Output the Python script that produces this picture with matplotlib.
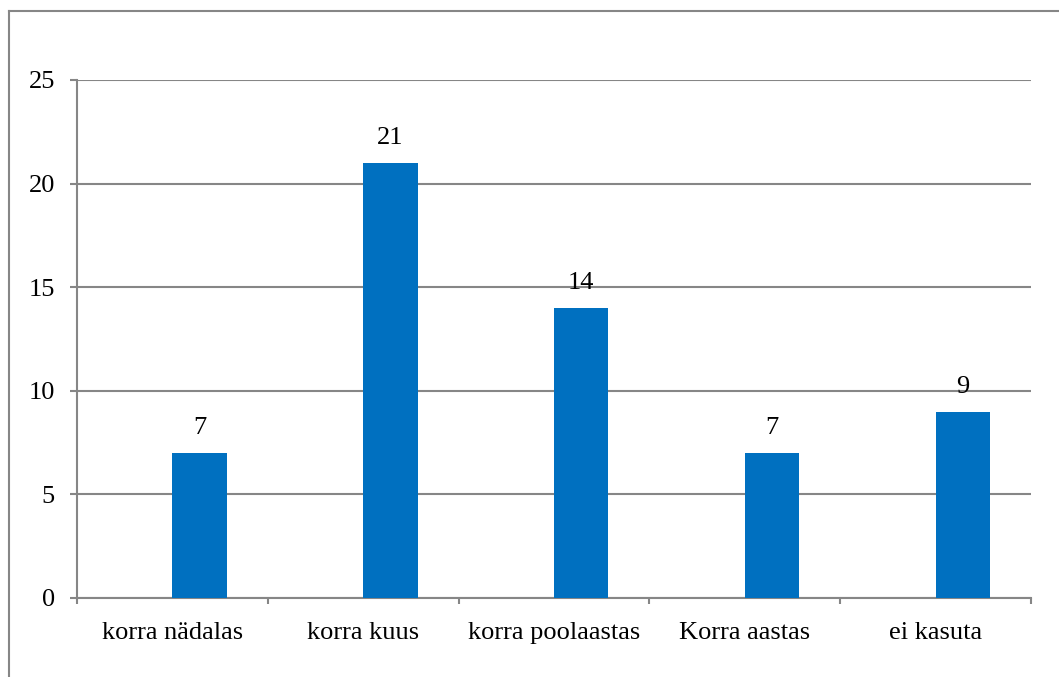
import matplotlib
matplotlib.use("Agg")
import matplotlib.pyplot as plt
from matplotlib.lines import Line2D

categories = ["korra nädalas", "korra kuus", "korra poolaastas", "Korra aastas", "ei kasuta"]
values = [7, 21, 14, 7, 9]
y_ticks = [0, 5, 10, 15, 20, 25]

W, H = 1059, 677
fig = plt.figure(figsize=(W / 100, H / 100), dpi=100)
plt.rcParams["font.family"] = ["Liberation Serif", "DejaVu Serif"]

# plot area in pixels: left 77, right 1031, top 80, bottom 598
ax = fig.add_axes([77 / W, 1 - 598 / H, (1031 - 77) / W, (598 - 80) / H])

grid_c = "#868686"
fs = 19
x = list(range(len(categories)))
# bars start at the category centre (empty second series in the original)
bars = ax.bar(x, values, width=0.285, align="edge", color="#0070C0", zorder=3)

ax.set_xlim(-0.5, len(categories) - 0.5)
ax.set_ylim(0, 25)
ax.set_yticks(y_ticks)
ax.set_yticklabels([str(t) for t in y_ticks], fontsize=fs)
ax.yaxis.grid(True, color=grid_c, linewidth=1.5, zorder=0)

ax.set_xticks(x)
ax.set_xticklabels(categories, fontsize=fs)
ax.tick_params(axis="x", length=0, pad=17)
ax.tick_params(axis="y", length=5, width=1.5, color=grid_c, pad=11)

# category boundary ticks
ax.set_xticks([i - 0.5 for i in range(len(categories) + 1)], minor=True)
ax.tick_params(axis="x", which="minor", length=4.5, width=1.5, color=grid_c)

for s in ["top", "right"]:
    ax.spines[s].set_visible(False)
ax.spines["left"].set_color(grid_c)
ax.spines["left"].set_linewidth(1.5)
ax.spines["bottom"].set_color(grid_c)
ax.spines["bottom"].set_linewidth(1.5)

for b, v in zip(bars, values):
    ax.annotate(str(v), (b.get_x() + b.get_width() / 2, v), xytext=(0, 10),
                textcoords="offset points", ha="center", va="bottom", fontsize=fs)

# outer chart border (left and top visible)
fig.add_artist(Line2D([8.5 / W, 8.5 / W], [0, 1 - 10.5 / H], color=grid_c, lw=1.5, transform=fig.transFigure))
fig.add_artist(Line2D([8.5 / W, 1], [1 - 10.5 / H, 1 - 10.5 / H], color=grid_c, lw=1.5, transform=fig.transFigure))

fig.savefig("out.png", dpi=100)
